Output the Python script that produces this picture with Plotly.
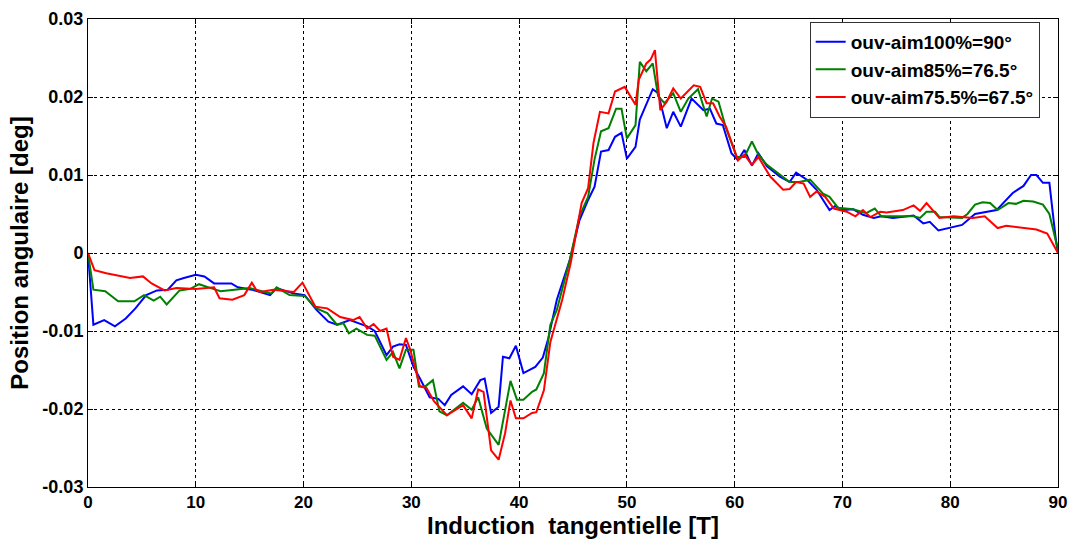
import plotly.graph_objects as go

blue_x = [0, 0.5, 1.5, 2.5, 3.5, 4.4, 5.4, 6.4, 7.4, 8.2, 8.9, 10.0, 10.8, 11.7, 13.3, 13.9, 15.2, 16.9, 17.5, 19.1,
          20.1, 21.2, 22.3, 23.1, 24.3, 25.9, 26.6, 27.2, 27.7, 28.3, 28.9, 29.5, 30.2, 30.8, 31.7, 32.5, 33.1, 33.7,
          34.8, 35.6, 36.4, 36.8, 37.4, 38.1, 38.5, 39.1, 39.7, 40.4, 41.5, 42.2, 42.7, 43.5, 44.7, 45.6, 46.4, 47.0,
          47.6, 48.3, 48.9, 49.5, 50.0, 50.8, 51.2, 52.4, 52.9, 53.7, 54.3, 55.0, 56.0, 57.1, 57.7, 58.3, 58.9, 59.7,
          60.3, 60.9, 61.6, 62.2, 63.0, 64.2, 65.1, 65.7, 66.7, 67.6, 68.8, 69.3, 70.1, 71.0, 71.9, 72.9, 73.6, 74.7,
          76.6, 77.5, 78.1, 78.9, 79.9, 81.1, 82.3, 84.3, 85.8, 86.8, 87.5, 88.0, 88.6, 89.2, 89.8, 90.0]
blue_y = [0, -0.0092, -0.0086, -0.0094, -0.0084, -0.0071, -0.0054, -0.0048, -0.0047, -0.0035, -0.0032, -0.0028,
          -0.0030, -0.0039, -0.0039, -0.0044, -0.0047, -0.0054, -0.0045, -0.0052, -0.0054, -0.0073, -0.0088, -0.0092,
          -0.0086, -0.0094, -0.0100, -0.0118, -0.0131, -0.0120, -0.0117, -0.0118, -0.0146, -0.0161, -0.0185, -0.0187,
          -0.0195, -0.0182, -0.0171, -0.0181, -0.0163, -0.0161, -0.0205, -0.0197, -0.0133, -0.0135, -0.0119, -0.0154,
          -0.0146, -0.0134, -0.0110, -0.0060, -0.0009, 0.0042, 0.0068, 0.0085, 0.0130, 0.0132, 0.0149, 0.0154, 0.0121,
          0.0136, 0.0171, 0.0210, 0.0205, 0.0160, 0.0181, 0.0162, 0.0198, 0.0183, 0.0185, 0.0166, 0.0164, 0.0128,
          0.0119, 0.0132, 0.0112, 0.0128, 0.0111, 0.0098, 0.0091, 0.0103, 0.0094, 0.0081, 0.0055, 0.0060, 0.0055,
          0.0056, 0.0049, 0.0045, 0.0047, 0.0045, 0.0048, 0.0038, 0.0040, 0.0029, 0.0032, 0.0036, 0.0050, 0.0055,
          0.0077, 0.0086, 0.0100, 0.0100, 0.0090, 0.0090, 0.0017, 0.0]

green_x = [0, 0.5, 1.6, 2.8, 4.3, 5.2, 6.1, 6.7, 7.3, 8.5, 9.5, 10.3, 11.4, 12.3, 13.6, 15.0, 17.0, 17.5, 18.7, 20.1,
           21.2, 22.2, 23.1, 23.7, 24.2, 24.9, 25.9, 26.6, 27.7, 28.3, 28.9, 29.5, 30.2, 30.7, 31.3, 32.0, 32.6, 33.3,
           34.8, 35.6, 36.2, 37.0, 38.1, 38.5, 39.2, 39.8, 40.4, 41.2, 41.6, 42.3, 42.9, 43.5, 44.7, 45.6, 46.4, 47.0,
           47.6, 48.3, 49.0, 49.5, 50.0, 50.8, 51.2, 51.8, 52.4, 52.9, 53.5, 54.3, 55.0, 55.7, 56.6, 57.4, 57.9, 58.5,
           59.2, 60.2, 60.9, 61.6, 62.2, 63.0, 64.2, 65.1, 66.0, 67.0, 68.2, 68.8, 69.6, 71.0, 72.2, 73.0, 73.6, 74.7,
           76.6, 77.2, 77.8, 78.6, 79.0, 81.1, 81.6, 82.3, 83.0, 83.7, 84.4, 85.4, 86.1, 86.8, 87.7, 88.6, 89.2, 90.0]
green_y = [0, -0.0047, -0.0049, -0.0062, -0.0062, -0.0054, -0.0061, -0.0056, -0.0066, -0.0048, -0.0046, -0.0040,
           -0.0045, -0.0049, -0.0047, -0.0045, -0.0052, -0.0044, -0.0054, -0.0055, -0.0071, -0.0077, -0.0092, -0.0090,
           -0.0103, -0.0097, -0.0105, -0.0106, -0.0137, -0.0127, -0.0148, -0.0124, -0.0124, -0.0171, -0.0171, -0.0163,
           -0.0203, -0.0208, -0.0192, -0.0201, -0.0185, -0.0225, -0.0246, -0.0218, -0.0164, -0.0188, -0.0188, -0.0178,
           -0.0175, -0.0154, -0.0092, -0.0073, -0.0009, 0.0047, 0.0072, 0.0120, 0.0156, 0.0160, 0.0185, 0.0185, 0.0147,
           0.0164, 0.0245, 0.0233, 0.0243, 0.0201, 0.0192, 0.0205, 0.0181, 0.0198, 0.0210, 0.0175, 0.0198, 0.0194,
           0.0160, 0.0123, 0.0123, 0.0143, 0.0126, 0.0113, 0.0100, 0.0091, 0.0091, 0.0094, 0.0076, 0.0072, 0.0058,
           0.0056, 0.0051, 0.0057, 0.0047, 0.0047, 0.0047, 0.0045, 0.0053, 0.0053, 0.0046, 0.0045, 0.0050, 0.0062,
           0.0065, 0.0064, 0.0055, 0.0064, 0.0063, 0.0067, 0.0066, 0.0062, 0.0050, 0.0004]

red_x = [0, 0.6, 1.7, 3.9, 5.1, 5.9, 7.1, 8.2, 10.0, 11.7, 12.2, 13.4, 14.5, 15.2, 15.6, 16.0, 17.2, 19.1, 19.9, 21.1,
         22.2, 23.4, 24.6, 25.2, 25.9, 26.5, 27.1, 27.7, 28.3, 28.9, 29.5, 29.9, 30.8, 31.4, 32.1, 33.3, 34.8, 35.6,
         36.2, 36.7, 37.4, 38.1, 38.7, 39.2, 39.7, 40.4, 41.2, 41.6, 42.3, 42.9, 44.0, 44.8, 45.8, 46.4, 46.9, 47.5,
         48.3, 48.9, 49.8, 50.8, 51.1, 51.8, 52.2, 52.6, 53.1, 53.7, 54.3, 55.0, 56.2, 56.8, 57.4, 58.0, 58.6, 59.2,
         60.3, 60.9, 61.6, 62.2, 63.3, 64.5, 65.1, 65.7, 66.4, 67.0, 67.6, 68.4, 69.2, 70.4, 71.2, 71.9, 72.6, 73.5,
         74.1, 75.6, 76.6, 77.2, 77.8, 79.0, 80.3, 82.1, 83.2, 84.4, 85.2, 86.5, 88.0, 89.0, 90.0]
red_y = [0, -0.0022, -0.0026, -0.0032, -0.0030, -0.0039, -0.0048, -0.0045, -0.0046, -0.0044, -0.0058, -0.0060,
         -0.0054, -0.0038, -0.0047, -0.0050, -0.0047, -0.0050, -0.0038, -0.0069, -0.0071, -0.0082, -0.0086, -0.0082,
         -0.0097, -0.0091, -0.0100, -0.0097, -0.0133, -0.0137, -0.0109, -0.0124, -0.0171, -0.0173, -0.0190, -0.0208,
         -0.0195, -0.0212, -0.0175, -0.0178, -0.0253, -0.0265, -0.0231, -0.0189, -0.0212, -0.0212, -0.0205, -0.0204,
         -0.0176, -0.0114, -0.0060, -0.0012, 0.0064, 0.0083, 0.0141, 0.0181, 0.0179, 0.0207, 0.0213, 0.0190, 0.0222,
         0.0243, 0.0248, 0.0260, 0.0183, 0.0194, 0.0211, 0.0198, 0.0215, 0.0213, 0.0192, 0.0192, 0.0175, 0.0162,
         0.0119, 0.0126, 0.0113, 0.0123, 0.0098, 0.0081, 0.0082, 0.0091, 0.0089, 0.0072, 0.0079, 0.0072, 0.0057,
         0.0053, 0.0047, 0.0055, 0.0046, 0.0053, 0.0052, 0.0055, 0.0061, 0.0054, 0.0064, 0.0045, 0.0047, 0.0045,
         0.0047, 0.0032, 0.0035, 0.0033, 0.0030, 0.0025, 0.0]

series_names = ["ouv-aim100%=90°", "ouv-aim85%=76.5°", "ouv-aim75.5%=67.5°"]
series_colors = ["#0000FF", "#008000", "#FF0000"]

x_ticks = [0, 10, 20, 30, 40, 50, 60, 70, 80, 90]
y_ticks = [-0.03, -0.02, -0.01, 0, 0.01, 0.02, 0.03]
y_tick_labels = ["-0.03", "-0.02", "-0.01", "0", "0.01", "0.02", "0.03"]

FONT = "Liberation Sans, Arial, sans-serif"

fig = go.Figure()
for xs, ys, name, col in zip([blue_x, green_x, red_x], [blue_y, green_y, red_y], series_names, series_colors):
    fig.add_trace(go.Scatter(x=xs, y=ys, mode="lines", name="<b>%s</b>" % name,
                             line=dict(color=col, width=2)))

axis_common = dict(showline=True, linecolor="black", linewidth=1, mirror="allticks",
                   ticks="inside", ticklen=5, tickcolor="black",
                   showgrid=True, gridcolor="black", gridwidth=1, griddash="dot",
                   zeroline=False, automargin=False)

fig.update_layout(
    width=1072, height=540,
    margin=dict(l=88, r=14, t=19, b=53),
    paper_bgcolor="white", plot_bgcolor="white",
    xaxis=dict(range=[0, 90], tickvals=x_ticks, ticktext=["<b>%d</b>" % v for v in x_ticks],
               tickfont=dict(family=FONT, size=17, color="black"),
               title=dict(text="<b>Induction  tangentielle [T]</b>",
                          font=dict(family=FONT, size=24, color="black"),
                          standoff=0),
               **axis_common),
    yaxis=dict(range=[-0.03, 0.03], tickvals=y_ticks, ticktext=["<b>%s</b>" % t for t in y_tick_labels],
               tickfont=dict(family=FONT, size=18, color="black"),
               title=dict(text="<b>Position angulaire [deg]</b>",
                          font=dict(family=FONT, size=24, color="black"),
                          standoff=6),
               **axis_common),
    legend=dict(x=0.744, y=0.994, xanchor="left", yanchor="top",
                bgcolor="white", bordercolor="#333333", borderwidth=1,
                font=dict(family=FONT, size=19, color="black"),
                tracegroupgap=0, itemwidth=30),
    showlegend=True,
)

fig.write_html("out.html")
